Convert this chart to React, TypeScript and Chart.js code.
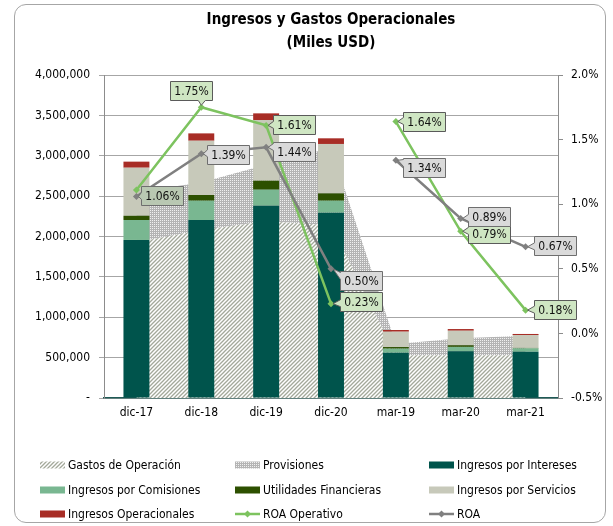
import React, { useEffect, useRef } from 'react';
import { Chart, registerables } from 'chart.js';

Chart.register(...registerables);

const categories = ['dic-17', 'dic-18', 'dic-19', 'dic-20', 'mar-19', 'mar-20', 'mar-21'];
const gastosOperacion = [1930000, 2080000, 2190000, 2140000, 530000, 530000, 530000];
const provisiones = [620000, 590000, 700000, 960000, 140000, 210000, 240000];
const ingresosIntereses = [1957000, 2204000, 2382000, 2295000, 561000, 578000, 573000];
const ingresosComisiones = [247000, 239000, 198000, 148000, 50000, 55000, 42000];
const utilidadesFinancieras = [53000, 71000, 111000, 91000, 20000, 20000, 5000];
const ingresosServicios = [595000, 672000, 752000, 612000, 190000, 180000, 160000];
const ingresosOperacionales = [75000, 91000, 82000, 70000, 21000, 21000, 13000];
const roaOperativo = [1.11, 1.75, 1.61, 0.23, 1.64, 0.79, 0.18];
const roa = [1.06, 1.39, 1.44, 0.5, 1.34, 0.89, 0.67];

const FONT = "'DejaVu Sans Condensed', 'DejaVu Sans', sans-serif";

const C_INT = '#00544c';
const C_COM = '#79b791';
const C_UTI = '#2d5000';
const C_SER = '#c7c9ba';
const C_OPE = '#a82d26';
const C_ROAOP = '#7dc35f';
const C_ROA = '#808080';

// callout placement (style only)
type Off = { side: 'right' | 'top'; dx: number; dy: number; bg?: string } | null;
const greenOffsets: Off[] = [
  null,
  { side: 'top', dx: -10, dy: -7 },
  { side: 'right', dx: 7, dy: -1 },
  { side: 'right', dx: 9, dy: -2 },
  { side: 'right', dx: 7, dy: 0 },
  { side: 'right', dx: 7, dy: 2 },
  { side: 'right', dx: 8, dy: -1 },
];
const grayOffsets: Off[] = [
  { side: 'right', dx: 5, dy: -1, bg: '#b9c8b2' },
  { side: 'right', dx: 6, dy: 1 },
  { side: 'right', dx: 7, dy: 4 },
  { side: 'right', dx: 9, dy: 12 },
  { side: 'right', dx: 7, dy: 7 },
  { side: 'right', dx: 7, dy: -2 },
  { side: 'right', dx: 8, dy: -1 },
];

function makeHatch(): CanvasPattern {
  const c = document.createElement('canvas');
  c.width = 4;
  c.height = 4;
  const x = c.getContext('2d')!;
  x.fillStyle = '#ffffff';
  x.fillRect(0, 0, 4, 4);
  x.strokeStyle = '#a3a89a';
  x.lineWidth = 1.3;
  x.beginPath();
  x.moveTo(-1, 5);
  x.lineTo(5, -1);
  x.moveTo(-1, 1);
  x.lineTo(1, -1);
  x.moveTo(3, 5);
  x.lineTo(5, 3);
  x.stroke();
  return x.createPattern(c, 'repeat')!;
}

function makeDots(): CanvasPattern {
  const c = document.createElement('canvas');
  c.width = 2;
  c.height = 2;
  const x = c.getContext('2d')!;
  x.fillStyle = '#b4b4b4';
  x.fillRect(0, 0, 2, 2);
  x.fillStyle = '#f0f0f0';
  x.fillRect(0, 0, 1, 1);
  return x.createPattern(c, 'repeat')!;
}

function drawCallout(ctx: CanvasRenderingContext2D, px: number, py: number, o: NonNullable<Off>, text: string, bg: string, border: string) {
  ctx.save();
  ctx.font = `12px ${FONT}`;
  const w = Math.round(ctx.measureText(text).width + 8);
  const h = 19;
  let bx: number, by: number;
  ctx.beginPath();
  if (o.side === 'top') {
    bx = Math.round(px + o.dx - w / 2) + 0.5;
    by = Math.round(py + o.dy - h) + 0.5;
    const wx = Math.min(Math.max(px - 3, bx + 1), bx + w - 8);
    ctx.moveTo(bx, by);
    ctx.lineTo(bx + w, by);
    ctx.lineTo(bx + w, by + h);
    ctx.lineTo(wx + 7, by + h);
    ctx.lineTo(px, py - 2);
    ctx.lineTo(wx, by + h);
    ctx.lineTo(bx, by + h);
    ctx.closePath();
  } else {
    bx = Math.round(px + o.dx) + 0.5;
    by = Math.round(py + o.dy - h / 2) + 0.5;
    const wt = Math.min(Math.max(py - 4, by + 1), by + h - 8);
    ctx.moveTo(bx, by);
    ctx.lineTo(bx + w, by);
    ctx.lineTo(bx + w, by + h);
    ctx.lineTo(bx, by + h);
    ctx.lineTo(bx, wt + 7);
    ctx.lineTo(px + 2, py);
    ctx.lineTo(bx, wt);
    ctx.closePath();
  }
  ctx.fillStyle = bg;
  ctx.fill();
  ctx.strokeStyle = border;
  ctx.lineWidth = 1;
  ctx.stroke();
  ctx.fillStyle = '#111111';
  ctx.textAlign = 'center';
  ctx.textBaseline = 'middle';
  ctx.fillText(text, bx + w / 2, by + h / 2 + 0.5);
  ctx.restore();
}

const calloutPlugin = {
  id: 'calloutLabels',
  afterDatasetsDraw(chart: any) {
    const ctx = chart.ctx as CanvasRenderingContext2D;
    const specs: { label: string; offs: Off[]; bg: string; border: string }[] = [
      { label: 'ROA Operativo', offs: greenOffsets, bg: '#cfe6c3', border: '#5a5a5a' },
      { label: 'ROA', offs: grayOffsets, bg: '#dadada', border: '#6e6e6e' },
    ];
    specs.forEach((s) => {
      const di = chart.data.datasets.findIndex((d: any) => d.label === s.label);
      if (di < 0) return;
      const meta = chart.getDatasetMeta(di);
      const vals = chart.data.datasets[di].data as number[];
      meta.data.forEach((pt: any, i: number) => {
        const o = s.offs[i];
        if (!o) return;
        drawCallout(ctx, pt.x, pt.y, o, vals[i].toFixed(2) + '%', o.bg || s.bg, s.border);
      });
    });
  },
};

const legendPlugin = {
  id: 'gridLegend',
  afterDraw(chart: any) {
    const ctx = chart.ctx as CanvasRenderingContext2D;
    const cols = [40, 235, 429];
    const rows = [465, 490, 514];
    chart.data.datasets.forEach((ds: any, i: number) => {
      const x = cols[i % 3];
      const y = rows[Math.floor(i / 3)];
      ctx.save();
      if (ds.type === 'line' && !ds.fill) {
        ctx.strokeStyle = ds.borderColor;
        ctx.lineWidth = 2.5;
        ctx.beginPath();
        ctx.moveTo(x, y);
        ctx.lineTo(x + 25, y);
        ctx.stroke();
        ctx.fillStyle = ds.borderColor;
        ctx.beginPath();
        ctx.moveTo(x + 12.5, y - 3.5);
        ctx.lineTo(x + 16, y);
        ctx.lineTo(x + 12.5, y + 3.5);
        ctx.lineTo(x + 9, y);
        ctx.closePath();
        ctx.fill();
      } else {
        ctx.fillStyle = ds.backgroundColor;
        ctx.fillRect(x, y - 3.5, 25, 7);
      }
      ctx.fillStyle = '#000000';
      ctx.font = `12px ${FONT}`;
      ctx.textAlign = 'left';
      ctx.textBaseline = 'middle';
      ctx.fillText(ds.label, x + 28, y + 0.5);
      ctx.restore();
    });
  },
};

export default function App() {
  const ref = useRef<HTMLCanvasElement | null>(null);

  useEffect(() => {
    if (!ref.current) return;
    const hatch = makeHatch();
    const dots = makeDots();
    const gap = (color: string) => (ctx: any) => (ctx.p0DataIndex === 3 ? 'rgba(0,0,0,0)' : color);
    const tickFont = { family: FONT, size: 12 };

    const chart = new Chart(ref.current, {
      type: 'bar',
      data: {
        labels: categories,
        datasets: [
          { type: 'line', label: 'Gastos de Operación', data: gastosOperacion, backgroundColor: hatch as any, borderColor: 'rgba(0,0,0,0)', borderWidth: 0, pointRadius: 0, fill: 'origin', stack: 'areas', yAxisID: 'y', order: 10, tension: 0 } as any,
          { type: 'line', label: 'Provisiones', data: provisiones, backgroundColor: dots as any, borderColor: 'rgba(0,0,0,0)', borderWidth: 0, pointRadius: 0, fill: '-1', stack: 'areas', yAxisID: 'y', order: 10, tension: 0 } as any,
          { type: 'bar', label: 'Ingresos por Intereses', data: ingresosIntereses, backgroundColor: C_INT, stack: 'bars', yAxisID: 'y', order: 5 },
          { type: 'bar', label: 'Ingresos por Comisiones', data: ingresosComisiones, backgroundColor: C_COM, stack: 'bars', yAxisID: 'y', order: 5 },
          { type: 'bar', label: 'Utilidades Financieras', data: utilidadesFinancieras, backgroundColor: C_UTI, stack: 'bars', yAxisID: 'y', order: 5 },
          { type: 'bar', label: 'Ingresos por Servicios', data: ingresosServicios, backgroundColor: C_SER, stack: 'bars', yAxisID: 'y', order: 5 },
          { type: 'bar', label: 'Ingresos Operacionales', data: ingresosOperacionales, backgroundColor: C_OPE, stack: 'bars', yAxisID: 'y', order: 5 },
          { type: 'line', label: 'ROA Operativo', data: roaOperativo, borderColor: C_ROAOP, backgroundColor: C_ROAOP, borderWidth: 2.5, pointStyle: 'rectRot', pointRadius: 3.5, pointBorderWidth: 0, yAxisID: 'y1', fill: false, order: 1, segment: { borderColor: gap(C_ROAOP) } } as any,
          { type: 'line', label: 'ROA', data: roa, borderColor: C_ROA, backgroundColor: C_ROA, borderWidth: 2.5, pointStyle: 'rectRot', pointRadius: 3.5, pointBorderWidth: 0, yAxisID: 'y1', fill: false, order: 0, segment: { borderColor: gap(C_ROA) } } as any,
        ],
      },
      options: {
        responsive: false,
        animation: false,
        events: [],
        layout: { padding: { left: 0, right: 0, top: 0, bottom: 86 } },
        datasets: { bar: { barPercentage: 0.4, categoryPercentage: 1 } },
        plugins: {
          legend: { display: false },
          tooltip: { enabled: false },
          title: {
            display: true,
            fullSize: false,
            text: ['Ingresos y Gastos Operacionales', '(Miles USD)'],
            color: '#000000',
            font: { family: FONT, size: 15, weight: 'bold', lineHeight: 1.5 },
            padding: { top: 9, bottom: 21 },
          },
        },
        scales: {
          x: {
            stacked: true,
            offset: true,
            grid: { display: false, drawTicks: false },
            border: { color: '#1f5a56', width: 1.5 },
            ticks: { font: tickFont, color: '#000000', padding: 8 },
            afterFit: (s: any) => { s.height = 42; },
          },
          y: {
            position: 'left',
            stacked: true,
            min: 0,
            max: 4000000,
            ticks: {
              stepSize: 500000,
              font: tickFont,
              color: '#000000',
              padding: 9,
              callback: (v: any) => (Number(v) === 0 ? '-' : Number(v).toLocaleString('en-US')),
            },
            grid: { color: '#a6a6a6', tickLength: 5 },
            border: { color: '#8c8c8c' },
            afterFit: (s: any) => { s.width = 104; },
          },
          y1: {
            position: 'right',
            min: -0.5,
            max: 2.0,
            ticks: {
              stepSize: 0.5,
              font: tickFont,
              color: '#000000',
              padding: 8,
              callback: (v: any) => Number(v).toFixed(1) + '%',
            },
            grid: { drawOnChartArea: false, tickLength: 5, color: '#8c8c8c' },
            border: { color: '#8c8c8c' },
            afterFit: (s: any) => { s.width = 55; },
          },
        },
      } as any,
      plugins: [calloutPlugin, legendPlugin],
    });
    return () => chart.destroy();
  }, []);

  return (
    <div style={{ position: 'absolute', left: 0, top: 0, width: 613, height: 526, background: '#ffffff' }}>
      <canvas ref={ref} width={613} height={526} style={{ position: 'absolute', left: 0, top: 0, width: 613, height: 526 }} />
      <div
        style={{
          position: 'absolute',
          left: 14,
          top: 4,
          width: 590,
          height: 517,
          border: '1px solid #a6a6a6',
          borderRadius: 12,
          pointerEvents: 'none',
        }}
      />
    </div>
  );
}
